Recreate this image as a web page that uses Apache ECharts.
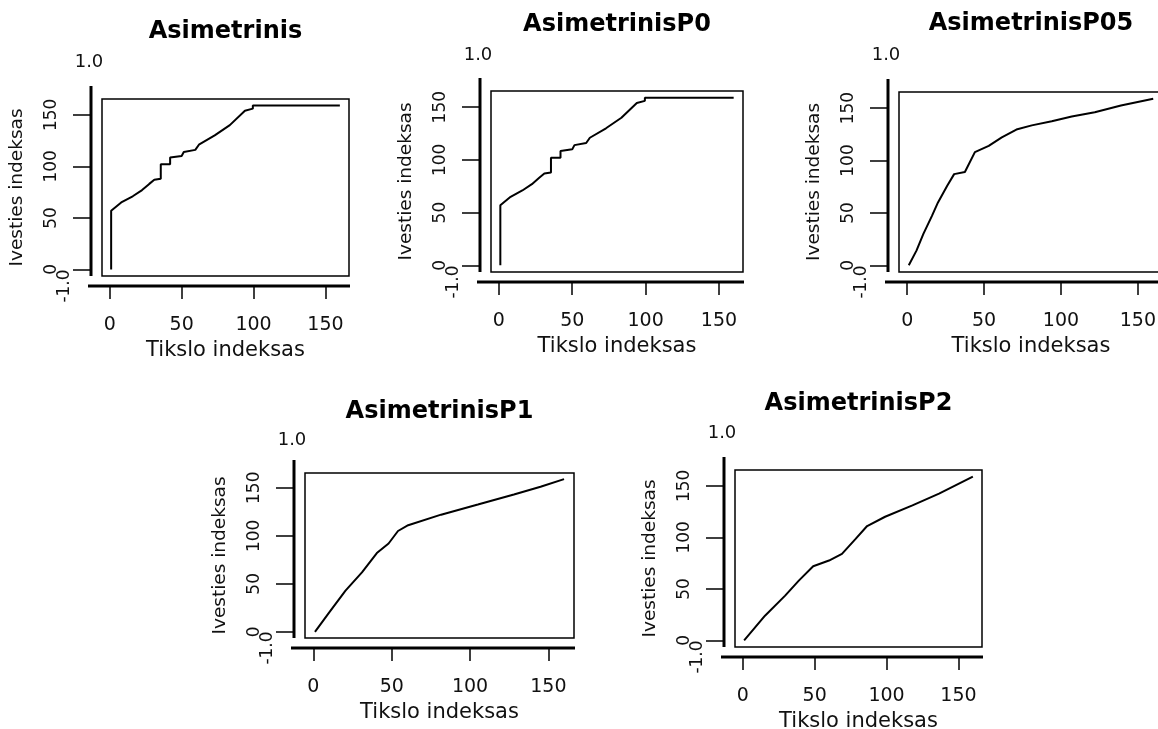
<!DOCTYPE html>
<html>
<head>
<meta charset="utf-8">
<script src="https://cdn.jsdelivr.net/npm/echarts@6/dist/echarts.min.js"></script>
<style>
  html, body { margin: 0; padding: 0; background: #fff; }
  #chart { width: 1158px; height: 729px; }
</style>
</head>
<body>
<div id="chart"></div>
<script>
// Panel titles and axis text
const panelTitles = ['Asimetrinis', 'AsimetrinisP0', 'AsimetrinisP05', 'AsimetrinisP1', 'AsimetrinisP2'];
const xAxisTitle = 'Tikslo indeksas';
const yAxisTitle = 'Ivesties indeksas';
const xTickValues = [0, 50, 100, 150];
const yTickValues = [0, 50, 100, 150];
const topStrayLabel = '1.0';
const bottomStrayLabel = '-1.0';

// Target index (x) -> input index (y), vertices of each curve
const asimX   = [1, 1, 8, 16, 22.5, 27.5, 31, 35.5, 35.5, 42, 42, 50, 51.5, 59.5, 62, 73, 83.5, 94, 99.5, 99.5, 160];
const asimY   = [0, 57, 65, 71, 77, 83, 87, 88, 102, 102, 108.5, 110, 114, 116, 121, 130, 140, 154, 156, 159, 159];

const asimP0X = [1, 1, 8, 16, 22.5, 27.5, 31, 35.5, 35.5, 42, 42, 50, 51.5, 59.5, 62, 73, 83.5, 94, 99.5, 99.5, 160];
const asimP0Y = [0, 57, 65, 71, 77, 83, 87, 88, 102, 102, 108.5, 110, 114, 116, 121, 130, 140, 154, 156, 159, 159];

const asimP05X = [1, 6, 10.5, 16, 20, 26, 30.5, 37.5, 44, 53, 61.5, 71, 81, 94, 107, 122, 139, 160];
const asimP05Y = [0, 14, 30, 47, 60, 76, 87, 89, 108, 114, 122, 129.5, 133.5, 137.5, 142, 146, 152.5, 159];

const asimP1X = [1, 10, 20.5, 31, 40.5, 48, 54, 60.5, 81.5, 105, 128, 145, 160];
const asimP1Y = [0, 20, 43, 62, 82, 92, 105, 111, 122, 132.5, 143, 151, 159];

const asimP2X = [1, 15.5, 29.5, 39, 49, 60, 69, 78.5, 86.5, 99, 118, 136.5, 160];
const asimP2Y = [0, 24, 43.5, 58, 72, 77.5, 84, 98.5, 111, 120, 131, 142.5, 159];

const seriesX = [asimX, asimP0X, asimP05X, asimP1X, asimP2X];
const seriesY = [asimY, asimP0Y, asimP05Y, asimP1Y, asimP2Y];

// Plot boxes (pixels) for the five panels, with title / stray-label heights above the box
const boxes = [
  { left: 102, top: 99,  width: 247, height: 177, titleUp: 67, strayUp: 37 },
  { left: 491, top: 91,  width: 252, height: 181, titleUp: 66, strayUp: 36 },
  { left: 899, top: 92,  width: 264, height: 180, titleUp: 68, strayUp: 37 },
  { left: 305, top: 473, width: 269, height: 165, titleUp: 61, strayUp: 33 },
  { left: 735, top: 470, width: 247, height: 177, titleUp: 66, strayUp: 37 }
];

// Axis ranges padded by 4% on each side
const xLo = 1, xHi = 160, yLo = 0, yHi = 159;
const xPad = (xHi - xLo) * 0.04, yPad = (yHi - yLo) * 0.04;

const FONT = 'DejaVu Sans';
const TXT = '#111';

const grids = boxes.map(b => ({
  left: b.left, top: b.top, width: b.width, height: b.height,
  show: true, borderColor: '#000', borderWidth: 1.5,
  backgroundColor: 'transparent', containLabel: false, outerBoundsMode: 'none'
}));

const xAxes = boxes.map((b, i) => ({
  gridIndex: i, type: 'value', position: 'bottom', offset: 10,
  min: xLo - xPad, max: xHi + xPad,
  axisLine: { show: false, onZero: false },
  axisTick: { show: true, inside: false, length: 13, customValues: xTickValues, lineStyle: { color: '#000', width: 1.5 } },
  axisLabel: { customValues: xTickValues, margin: 30, fontSize: 19, fontFamily: FONT, color: TXT },
  splitLine: { show: false },
  name: xAxisTitle, nameLocation: 'middle', nameGap: 54,
  nameTextStyle: { fontSize: 21, fontFamily: FONT, color: TXT }
}));

const yAxes = boxes.map((b, i) => ({
  gridIndex: i, type: 'value', position: 'left', offset: 11,
  min: yLo - yPad, max: yHi + yPad,
  axisLine: { show: false, onZero: false },
  axisTick: { show: true, inside: false, length: 18, customValues: yTickValues, lineStyle: { color: '#000', width: 1.5 } },
  axisLabel: { customValues: yTickValues, rotate: 90, margin: 31, fontSize: 17, fontFamily: FONT, color: TXT },
  splitLine: { show: false },
  name: yAxisTitle, nameLocation: 'middle', nameGap: 64, nameRotate: 90,
  nameTextStyle: { fontSize: 18.5, fontFamily: FONT, color: TXT }
}));

const series = boxes.map((b, i) => ({
  type: 'line', xAxisIndex: i, yAxisIndex: i,
  data: seriesX[i].map((x, k) => [x, seriesY[i][k]]),
  showSymbol: false, symbol: 'none',
  lineStyle: { color: '#000', width: 2 },
  silent: true
}));

// Offset axis lines, titles and stray labels
const graphics = [];
boxes.forEach((b, i) => {
  const L = b.left, T = b.top, R = b.left + b.width, B = b.top + b.height;
  graphics.push({ type: 'line', shape: { x1: L - 11, y1: T - 13, x2: L - 11, y2: B }, style: { stroke: '#000', lineWidth: 3 } });
  graphics.push({ type: 'line', shape: { x1: L - 14, y1: B + 10, x2: R + 1, y2: B + 10 }, style: { stroke: '#000', lineWidth: 3 } });
  graphics.push({ type: 'text', x: L + b.width / 2, y: T - b.titleUp,
    style: { text: panelTitles[i], font: 'bold 24px "DejaVu Sans"', fill: '#000', textAlign: 'center', textVerticalAlign: 'middle' } });
  graphics.push({ type: 'text', x: L - 13, y: T - b.strayUp,
    style: { text: topStrayLabel, font: '18px "DejaVu Sans"', fill: TXT, textAlign: 'center', textVerticalAlign: 'middle' } });
  graphics.push({ type: 'text', x: L - 37, y: B + 10, rotation: Math.PI / 2,
    style: { text: bottomStrayLabel, font: '17px "DejaVu Sans"', fill: TXT, textAlign: 'center', textVerticalAlign: 'middle' } });
});

const chart = echarts.init(document.getElementById('chart'), null, { renderer: 'canvas' });
chart.setOption({
  backgroundColor: '#fff',
  animation: false,
  grid: grids,
  xAxis: xAxes,
  yAxis: yAxes,
  series: series,
  graphic: graphics
});
</script>
</body>
</html>
